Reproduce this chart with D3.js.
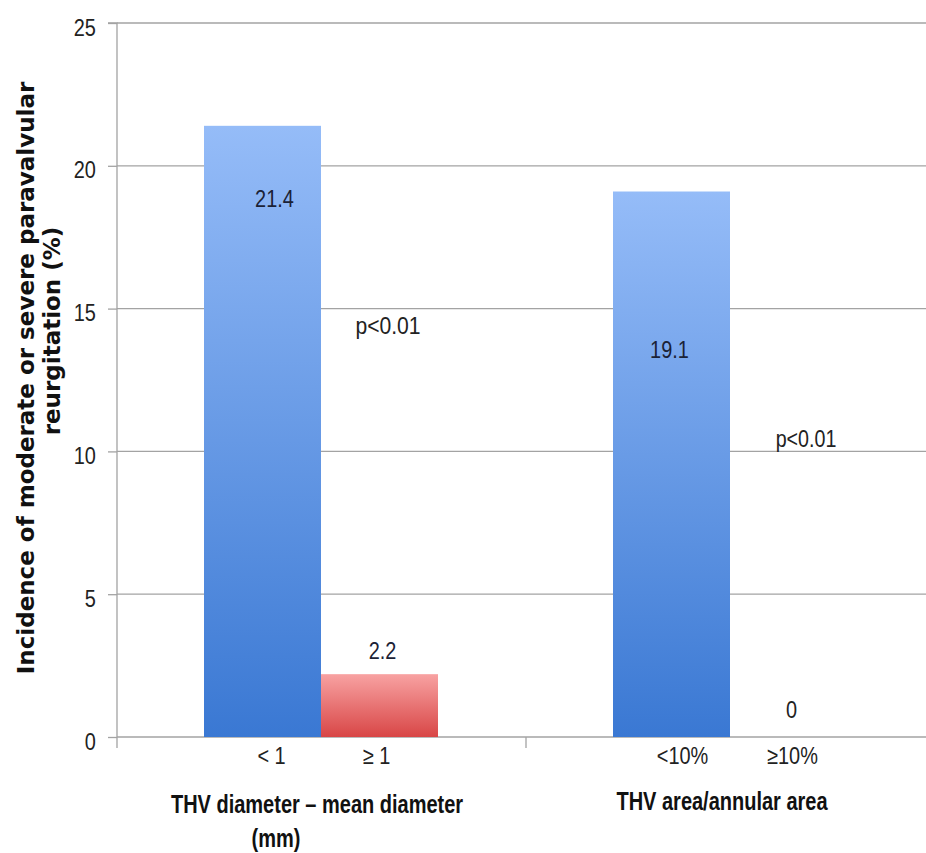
<!DOCTYPE html>
<html><head><meta charset="utf-8">
<script src="https://cdn.jsdelivr.net/npm/d3@7"></script>
<style>body{margin:0;background:#fff}svg{display:block}</style>
</head><body>
<svg id="c" width="926" height="853"></svg>
<script>
const groups = ["THV diameter – mean diameter (mm)", "THV area/annular area"];
const subLabels = [["< 1", "≥ 1"], ["<10%", "≥10%"]];
const values = [[21.4, 2.2], [19.1, 0]];
const valueText = [["21.4", "2.2"], ["19.1", "0"]];
const pTexts = ["p<0.01", "p<0.01"];
const yTicks = [0, 5, 10, 15, 20, 25];
const yTitle = ["Incidence of moderate or severe paravalvular", "reurgitation (%)"];

(function () {
const svg = d3.select("#c");
const FONT = "'Liberation Sans',Arial,sans-serif";
const SX = 0.83;
const mLeft = 117, mRight = 926, mTop = 23, mBottom = 737;
const y = d3.scaleLinear().domain([0, 25]).range([mBottom, mTop]);
const x0 = d3.scaleBand().domain(groups).range([mLeft, 935]);
const x1 = d3.scaleBand().domain([0, 1]).range([87, 87 + 234]);
const GRID = "#a3a3a3";

const defs = svg.append("defs");
function grad(id, c1, c2) {
  const g = defs.append("linearGradient").attr("id", id).attr("x1", 0).attr("y1", 0).attr("x2", 0).attr("y2", 1);
  g.append("stop").attr("offset", "0%").attr("stop-color", c1);
  g.append("stop").attr("offset", "100%").attr("stop-color", c2);
}
grad("gb", "#95bcf8", "#3a78d3");
grad("gr", "#f8a2a2", "#d84646");

function label(parent, x, yy, txt, opts) {
  opts = opts || {};
  return parent.append("text")
    .attr("transform", `translate(${x},${yy}) scale(${opts.sx || SX},1)`)
    .attr("text-anchor", opts.anchor || "middle")
    .attr("font-family", FONT)
    .attr("font-size", opts.size || 24)
    .attr("font-weight", opts.weight || "normal")
    .attr("fill", opts.fill || "#222")
    .text(txt);
}

svg.append("g").selectAll("line").data(yTicks.filter(d => d > 0)).join("line")
  .attr("x1", mLeft).attr("x2", mRight).attr("y1", d => y(d)).attr("y2", d => y(d))
  .attr("stroke", GRID).attr("stroke-width", 1.3);

const ya = svg.append("g").attr("transform", `translate(${mLeft},0)`)
  .call(d3.axisLeft(y).tickValues(yTicks).tickSize(9).tickPadding(16.5));
ya.select(".domain").attr("stroke", GRID).attr("stroke-width", 1.3).attr("d", `M-9,${mTop}H0V${mBottom + 11}`);
ya.selectAll(".tick line").attr("stroke", GRID).attr("stroke-width", 1.3);
ya.selectAll(".tick text").attr("font-family", FONT).attr("font-size", 24).attr("fill", "#222")
  .attr("dy", "0.5em").attr("transform", `scale(${SX},1)`);

svg.append("line").attr("x1", mLeft).attr("x2", mRight).attr("y1", mBottom).attr("y2", mBottom)
  .attr("stroke", GRID).attr("stroke-width", 1.3);
svg.append("line").attr("x1", x0(groups[1])).attr("x2", x0(groups[1])).attr("y1", mBottom).attr("y2", mBottom + 11)
  .attr("stroke", GRID).attr("stroke-width", 1.3);

groups.forEach((g, gi) => {
  const gx = x0(g);
  values[gi].forEach((v, i) => {
    svg.append("rect").attr("x", gx + x1(i)).attr("width", x1.bandwidth())
      .attr("y", y(v)).attr("height", y(0) - y(v))
      .attr("fill", i === 0 ? "url(#gb)" : "url(#gr)");
  });
});

const cx = (gi, i) => x0(groups[gi]) + x1(i) + x1.bandwidth() / 2;
const lab = svg.append("g");
const vOpts = { fill: "#1b2236" };
label(lab, cx(0, 0) + 12, y(values[0][0]) + 81, valueText[0][0], vOpts);
label(lab, cx(0, 1) + 3, y(values[0][1]) - 15, valueText[0][1], vOpts);
label(lab, cx(1, 0) - 2, y(values[1][0]) + 166, valueText[1][0], vOpts);
label(lab, cx(1, 1) + 3, y(values[1][1]) - 19, valueText[1][1], { fill: "#222" });

const pl = svg.append("g");
label(pl, 388, 334, pTexts[0], { sx: 0.88 });
label(pl, 806, 447, pTexts[1], { sx: 0.82 });

const sl = svg.append("g");
const subDx = [[9, -3], [11, 4]];
groups.forEach((g, gi) => {
  subLabels[gi].forEach((s, i) => {
    label(sl, cx(gi, i) + subDx[gi][i], 764, s);
  });
});

const gt = svg.append("g");
const tOpts = { weight: "bold", size: 25, sx: 0.8, fill: "#111" };
label(gt, 317, 813, "THV diameter – mean diameter", tOpts);
label(gt, 276, 847, "(mm)", tOpts);
label(gt, 722, 810, groups[1], tOpts);

const yt = svg.append("g").attr("transform", "rotate(-90)")
  .attr("font-family", "'DejaVu Sans',sans-serif").attr("font-weight", "bold").attr("font-size", 23).attr("fill", "#111").attr("text-anchor", "middle");
yt.append("text").attr("x", -378).attr("y", 34).text(yTitle[0]);
yt.append("text").attr("x", -331).attr("y", 60).text(yTitle[1]);
})();
</script>
</body></html>
